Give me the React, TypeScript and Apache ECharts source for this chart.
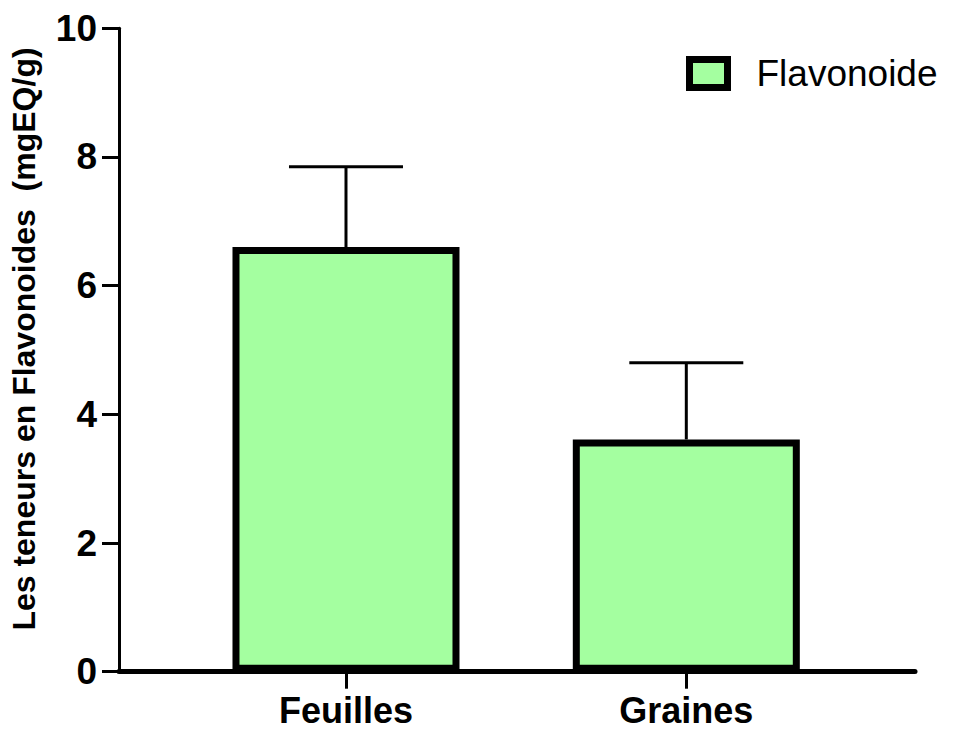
import React, { useEffect, useRef } from "react";
import * as echarts from "echarts";

const categories = ["Feuilles", "Graines"];
const means = [6.6, 3.61];
const errors = [1.25, 1.19];
const yTicks = [0, 2, 4, 6, 8, 10];
const seriesName = "Flavonoide";
const yAxisTitle = "Les teneurs en Flavonoides  (mgEQ/g)";

export default function App() {
  const ref = useRef<HTMLDivElement>(null);
  useEffect(() => {
    if (!ref.current) return;
    const chart = echarts.init(ref.current, null, { renderer: "svg" });
    const font = "'Liberation Sans', Arial, Helvetica, sans-serif";
    const barData = categories.map((c, i) => [i, means[i]]);
    const errData = categories.map((c, i) => [i, means[i], means[i] + errors[i]]);
    chart.setOption({
      animation: false,
      textStyle: { fontFamily: font },
      grid: { left: 118.5, right: 43, top: 28.3, bottom: 59.3, containLabel: false },
      legend: {
        data: [seriesName],
        left: 686,
        top: 55,
        padding: 0,
        icon: "rect",
        itemWidth: 38,
        itemHeight: 28,
        itemStyle: { color: "#A4FFA0", borderColor: "#000", borderWidth: 7 },
        textStyle: { fontFamily: font, fontSize: 37, color: "#000", padding: [0, 0, 0, 24] },
      },
      xAxis: {
        type: "value",
        min: -0.667,
        max: 1.672,
        splitLine: { show: false },
        axisLine: { show: true, onZero: false, lineStyle: { color: "#000", width: 5 } },
        axisTick: { show: true, customValues: [0, 1], length: 17, lineStyle: { color: "#000", width: 3 } },
        axisLabel: {
          customValues: [0, 1],
          formatter: (v: number) => categories[Math.round(v)] ?? "",
          fontFamily: font,
          fontSize: 36,
          lineHeight: 34,
          fontWeight: "bold",
          color: "#000",
          margin: 22,
        },
      },
      yAxis: {
        type: "value",
        min: yTicks[0],
        max: yTicks[yTicks.length - 1],
        interval: 2,
        splitLine: { show: false },
        axisLine: { show: true, onZero: false, lineStyle: { color: "#000", width: 3 } },
        axisTick: { show: true, length: 17, lineStyle: { color: "#000", width: 3 } },
        axisLabel: {
          fontFamily: font,
          fontSize: 37,
          fontWeight: "bold",
          color: "#000",
          margin: 22,
        },
        name: yAxisTitle,
        nameLocation: "middle",
        nameGap: 79,
        nameTextStyle: {
          fontFamily: font,
          fontSize: 32,
          fontWeight: "bold",
          color: "#000",
          padding: [0, 0, 0, 22],
        },
      },
      series: [
        {
          name: "err",
          type: "custom",
          z: 1,
          silent: true,
          data: errData,
          renderItem: (params: any, api: any) => {
            const x = api.value(0);
            const base = api.coord([x, api.value(1)]);
            const top = api.coord([x, api.value(2)]);
            const half = 57;
            return {
              type: "group",
              children: [
                {
                  type: "line",
                  shape: { x1: base[0], y1: base[1], x2: top[0], y2: top[1] },
                  style: { stroke: "#000", lineWidth: 3 },
                },
                {
                  type: "line",
                  shape: { x1: top[0] - half, y1: top[1], x2: top[0] + half, y2: top[1] },
                  style: { stroke: "#000", lineWidth: 3 },
                },
              ],
            };
          },
        },
        {
          name: seriesName,
          type: "bar",
          z: 2,
          barWidth: 227,
          data: barData,
          itemStyle: { color: "#A4FFA0", borderColor: "#000", borderWidth: 7 },
        },
      ],
    });
    return () => chart.dispose();
  }, []);
  return (
    <div
      ref={ref}
      style={{ position: "fixed", left: 0, top: 0, width: 958, height: 731, background: "#fff" }}
    />
  );
}
